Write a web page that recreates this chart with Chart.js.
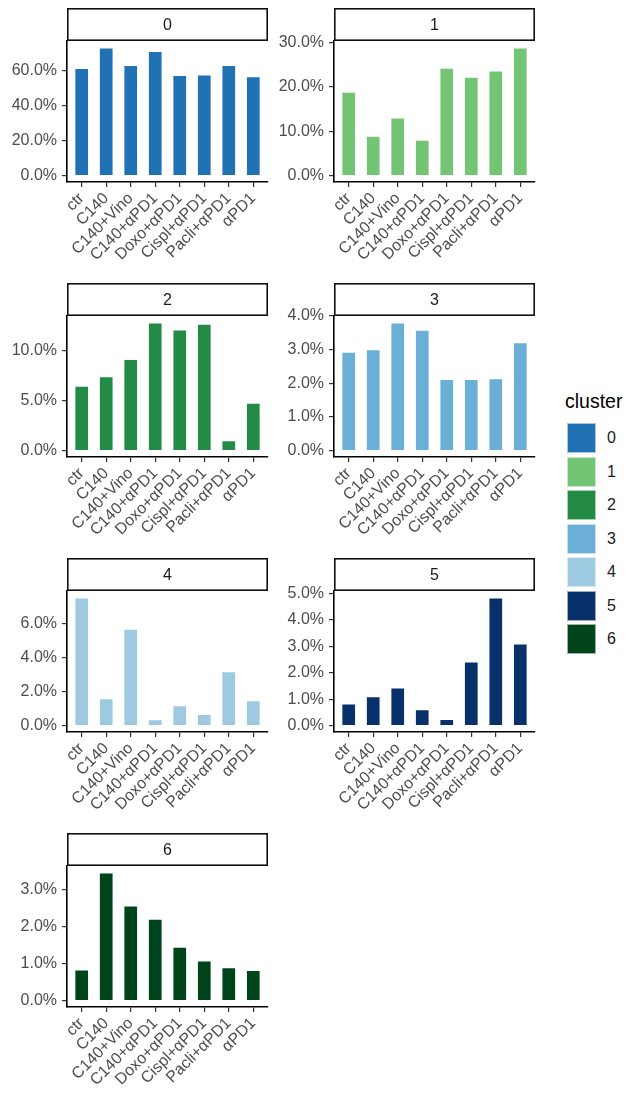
<!DOCTYPE html>
<html>
<head>
<meta charset="utf-8">
<script src="https://cdn.jsdelivr.net/npm/chart.js@4.4.1/dist/chart.umd.min.js"></script>
<style>
  html, body { margin: 0; padding: 0; background: #ffffff; }
  #wrap { position: relative; width: 626px; height: 1095px; overflow: hidden;
          font-family: "Liberation Sans", Arial, sans-serif; }
  .panel { position: absolute; }
  #legend { position: absolute; left: 0; top: 0; }
  .lg-title { position: absolute; left: 565px; top: 390px; font-size: 19.5px; color: #000; }
  .lg-key { position: absolute; left: 567px; width: 29px; height: 30px; box-sizing: border-box;
            border: 1px solid rgba(255,255,255,0.6); }
  .lg-label { position: absolute; left: 607px; font-size: 16px; color: #1A1A1A; line-height: 30px; }
</style>
</head>
<body>
<div id="wrap"><div id="legend"></div></div>
<script>
// Treatment groups on the x axis
const categories = ['ctr', 'C140', 'C140+Vino', 'C140+αPD1', 'Doxo+αPD1', 'Cispl+αPD1', 'Pacli+αPD1', 'αPD1'];

// Cluster names (facet titles / legend entries)
const clusters = ['0', '1', '2', '3', '4', '5', '6'];

// Share of cells (%) per treatment, one array per cluster
const cluster0 = [61.4, 73.1, 63.1, 71.1, 57.4, 57.7, 63.1, 56.6];
const cluster1 = [18.9, 9.0, 13.1, 8.1, 24.3, 22.3, 23.7, 28.9];
const cluster2 = [6.48, 7.44, 9.17, 12.83, 12.13, 12.7, 1.03, 4.79];
const cluster3 = [2.94, 3.01, 3.81, 3.59, 2.13, 2.13, 2.15, 3.22];
const cluster4 = [7.55, 1.61, 5.71, 0.37, 1.20, 0.68, 3.20, 1.49];
const cluster5 = [0.84, 1.11, 1.44, 0.62, 0.25, 2.43, 4.86, 3.11];
const cluster6 = [0.84, 3.45, 2.56, 2.20, 1.45, 1.08, 0.90, 0.82];

// y-axis tick values (%) for each facet
const yTicks0 = [0, 20, 40, 60];
const yTicks1 = [0, 10, 20, 30];
const yTicks2 = [0, 5, 10];
const yTicks3 = [0, 1, 2, 3, 4];
const yTicks4 = [0, 2, 4, 6];
const yTicks5 = [0, 1, 2, 3, 4, 5];
const yTicks6 = [0, 1, 2, 3];

// Fill colour for each cluster
const clusterColors = ['#2171B5', '#74C476', '#238B45', '#6BAED6', '#9ECAE1', '#08306B', '#00441B'];

const clusterValues = [cluster0, cluster1, cluster2, cluster3, cluster4, cluster5, cluster6];
const clusterTicks = [yTicks0, yTicks1, yTicks2, yTicks3, yTicks4, yTicks5, yTicks6];

const FONT = '"Liberation Sans", Arial, sans-serif';
const TEXT_SIZE = 16;
const STRIP_H = 33;

// Facet title box drawn above each plot area
const stripPlugin = {
  id: 'strip',
  afterDraw(chart, args, opts) {
    const { ctx, chartArea } = chart;
    const { left, right, top } = chartArea;
    ctx.save();
    ctx.fillStyle = '#ffffff';
    ctx.fillRect(left, top - STRIP_H, right - left, STRIP_H);
    ctx.lineWidth = 1.6;
    ctx.strokeStyle = '#111111';
    ctx.strokeRect(left + 0.8, top - STRIP_H + 0.8, right - left - 1.6, STRIP_H - 1.6);
    ctx.fillStyle = '#1A1A1A';
    ctx.font = TEXT_SIZE + 'px ' + FONT;
    ctx.textAlign = 'center';
    ctx.textBaseline = 'middle';
    ctx.fillText(opts.label, (left + right) / 2, top - STRIP_H / 2 + 1);
    ctx.restore();
  }
};

const wrap = document.getElementById('wrap');

clusters.forEach((name, i) => {
  const col = i % 2;
  const row = Math.floor(i / 2);
  const cv = document.createElement('canvas');
  cv.className = 'panel';
  cv.width = 275;
  cv.height = 262;
  cv.style.left = (col === 0 ? 0 : 267) + 'px';
  cv.style.top = (7 + 275 * row) + 'px';
  wrap.appendChild(cv);

  const values = clusterValues[i];
  const ticks = clusterTicks[i];
  const peak = Math.max(...values);

  new Chart(cv.getContext('2d'), {
    type: 'bar',
    data: {
      datasets: [{
        label: name,
        data: values.map((v, k) => ({ x: k + 1, y: v })),
        backgroundColor: clusterColors[i],
        borderColor: 'rgba(255,255,255,0.45)',
        borderWidth: 1,
        barPercentage: 0.6,
        categoryPercentage: 1.0
      }]
    },
    plugins: [stripPlugin],
    options: {
      responsive: false,
      animation: false,
      layout: { padding: { top: 34, right: 7, left: 0, bottom: 0 } },
      plugins: { legend: { display: false }, tooltip: { enabled: false }, strip: { label: name } },
      scales: {
        x: {
          type: 'linear', min: 0.4, max: categories.length + 0.6, offset: false,
          afterBuildTicks: s => { s.ticks = categories.map((_, k) => ({ value: k + 1 })); },
          afterFit: s => { s.height = 87; },
          grid: { display: true, offset: false, drawOnChartArea: false, drawTicks: true, tickLength: 5,
                  tickColor: '#333333', lineWidth: 1.2 },
          border: { display: true, color: '#000000', width: 1.6 },
          ticks: { autoSkip: false, minRotation: 45, maxRotation: 45, padding: 2,
                   color: '#4D4D4D', font: { family: FONT, size: TEXT_SIZE },
                   callback: v => categories[v - 1] }
        },
        y: {
          type: 'linear', min: -0.05 * peak, max: 1.05 * peak,
          afterBuildTicks: s => { s.ticks = ticks.map(v => ({ value: v })); },
          afterFit: s => { s.width = 67; },
          grid: { display: true, drawOnChartArea: false, drawTicks: true, tickLength: 5,
                  tickColor: '#333333', lineWidth: 1.2 },
          border: { display: true, color: '#000000', width: 1.6 },
          ticks: { padding: 5, color: '#4D4D4D', font: { family: FONT, size: TEXT_SIZE },
                   callback: v => v.toFixed(1) + '%' }
        }
      }
    }
  });
});

// Legend: colour key for each cluster
const legend = document.getElementById('legend');
const title = document.createElement('div');
title.className = 'lg-title';
title.textContent = 'cluster';
legend.appendChild(title);
clusters.forEach((name, i) => {
  const y = 423 + 33.5 * i;
  const key = document.createElement('div');
  key.className = 'lg-key';
  key.style.top = y + 'px';
  key.style.background = clusterColors[i];
  legend.appendChild(key);
  const lab = document.createElement('div');
  lab.className = 'lg-label';
  lab.style.top = y + 'px';
  lab.textContent = name;
  legend.appendChild(lab);
});
</script>
</body>
</html>
